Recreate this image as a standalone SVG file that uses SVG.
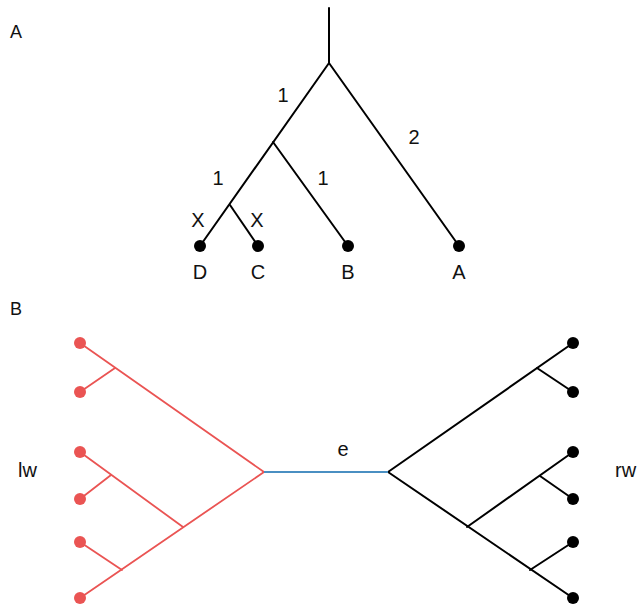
<svg xmlns="http://www.w3.org/2000/svg" width="638" height="609" viewBox="0 0 638 609">
<style>
.t{font-family:"Liberation Sans",Arial,sans-serif;fill:#111;}
.lab{font-size:20px;text-anchor:middle;}
.blk{stroke:#000;stroke-width:2;fill:none;stroke-linecap:round;}
.red{stroke:#ea5453;stroke-width:1.8;fill:none;stroke-linecap:round;}
.blue{stroke:#4a8fc2;stroke-width:1.8;fill:none;}
.dk{fill:#000;}
.dr{fill:#ea5453;}
</style>
<rect width="638" height="609" fill="#fff"/>
<text class="t" x="10" y="38" font-size="18">A</text>
<text class="t" x="10" y="315" font-size="18">B</text>
<g id="connectors">
<g id="treeA-edges">
<line class="blk" x1="329" y1="8" x2="329" y2="63"/>
<line class="blk" x1="329" y1="63" x2="200" y2="246"/>
<line class="blk" x1="329" y1="63" x2="459" y2="246"/>
<line class="blk" x1="273" y1="142" x2="348" y2="246"/>
<line class="blk" x1="230" y1="205" x2="258" y2="246"/>
</g>
<g id="treeB-left-edges">
<line class="red" x1="264" y1="472" x2="80" y2="343"/>
<line class="red" x1="115" y1="368" x2="80" y2="392"/>
<line class="red" x1="264" y1="472" x2="80" y2="598"/>
<line class="red" x1="183" y1="527" x2="80" y2="452"/>
<line class="red" x1="111" y1="475" x2="80" y2="499"/>
<line class="red" x1="122" y1="570" x2="80" y2="542"/>
</g>
<g id="treeB-right-edges">
<line class="blk" x1="388" y1="472" x2="573" y2="343"/>
<line class="blk" x1="537" y1="368" x2="573" y2="392"/>
<line class="blk" x1="388" y1="472" x2="573" y2="598"/>
<line class="blk" x1="467" y1="527" x2="573" y2="452"/>
<line class="blk" x1="540" y1="476" x2="573" y2="499"/>
<line class="blk" x1="530" y1="570" x2="573" y2="542"/>
</g>
<line id="edge-e" class="blue" x1="264" y1="472" x2="388" y2="472"/>
</g>
<g id="labels-A">
<text class="t lab" x="283" y="102">1</text>
<text class="t lab" x="414" y="144">2</text>
<text class="t lab" x="218" y="185">1</text>
<text class="t lab" x="323" y="185">1</text>
<text class="t lab" x="198" y="227">X</text>
<text class="t lab" x="257" y="227">X</text>
</g>
<g id="node-D"><circle class="dk" cx="200" cy="246" r="6"/><text class="t lab" x="200" y="279">D</text></g>
<g id="node-C"><circle class="dk" cx="258" cy="246" r="6"/><text class="t lab" x="258" y="279">C</text></g>
<g id="node-B"><circle class="dk" cx="348" cy="246" r="6"/><text class="t lab" x="348" y="279">B</text></g>
<g id="node-A"><circle class="dk" cx="459" cy="246" r="6"/><text class="t lab" x="459" y="279">A</text></g>
<g id="left-leaves">
<circle class="dr" cx="80" cy="343" r="6"/>
<circle class="dr" cx="80" cy="392" r="6"/>
<circle class="dr" cx="80" cy="452" r="6"/>
<circle class="dr" cx="80" cy="499" r="6"/>
<circle class="dr" cx="80" cy="542" r="6"/>
<circle class="dr" cx="80" cy="598" r="6"/>
</g>
<g id="right-leaves">
<circle class="dk" cx="573" cy="343" r="6"/>
<circle class="dk" cx="573" cy="392" r="6"/>
<circle class="dk" cx="573" cy="452" r="6"/>
<circle class="dk" cx="573" cy="499" r="6"/>
<circle class="dk" cx="573" cy="542" r="6"/>
<circle class="dk" cx="573" cy="598" r="6"/>
</g>
<text class="t" x="18" y="477" font-size="20">lw</text>
<text class="t" x="615" y="477" font-size="20">rw</text>
<text class="t lab" x="343" y="456" font-size="21">e</text>
</svg>
